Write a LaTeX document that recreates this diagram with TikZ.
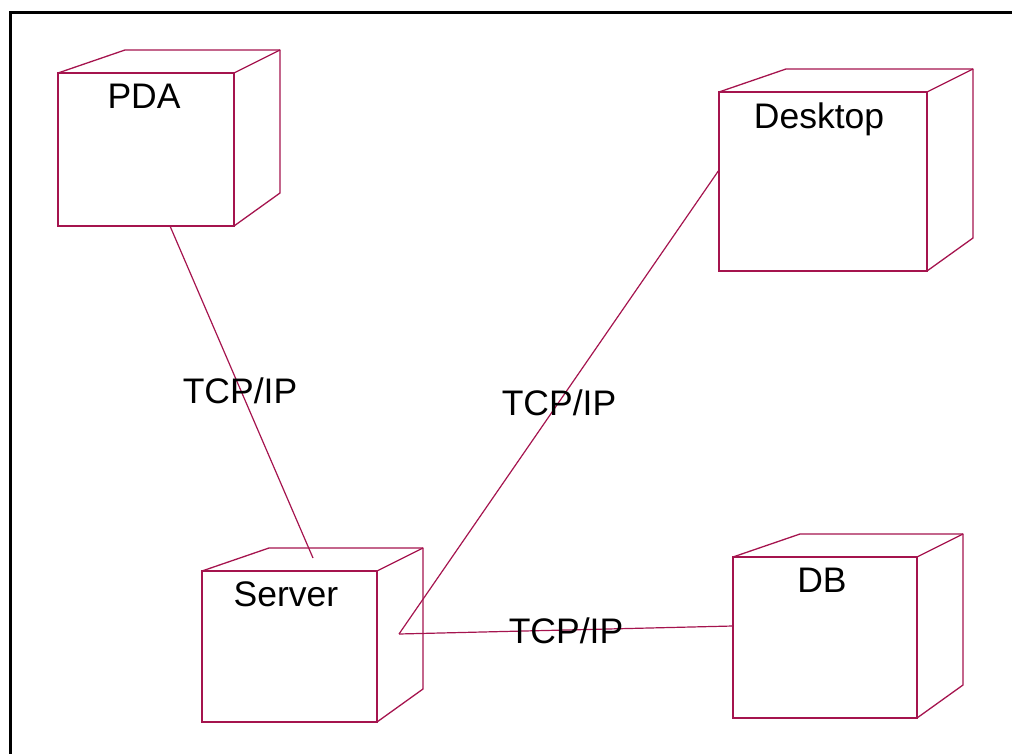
\documentclass[tikz,border=0pt]{standalone}
\usepackage{fontspec}
\setmainfont{Liberation Sans}
\definecolor{nodeline}{RGB}{165,20,78}
\tikzset{
  face/.style={draw=nodeline, line width=1.3pt, inner sep=0pt, outer sep=0pt},
  edge/.style={draw=nodeline, line width=1.3pt, line join=round},
  link/.style={draw=nodeline, line width=1.2pt},
  lbl/.style={anchor=base, inner sep=0pt, font=\fontsize{35.5}{40}\selectfont},
}
% front face of a UML node as a named rectangle node, plus its 3-D back edges
% #1 name, #2 left, #3 top, #4 right, #5 bottom
\newcommand{\umlnode}[5]{%
  \node[face, minimum width={#4-#2}, minimum height={#5-#3}] (#1) at ({(#2+#4)/2},{(#3+#5)/2}) {};
  \draw[edge] (#1.north west) -- ++(67,-23) -| ([shift={(46,-33)}]#1.south east) -- (#1.south east);
  \draw[edge] (#1.north east) -- ++(46,-23);
}
\begin{document}
\begin{tikzpicture}[x=1pt,y=-1pt]
\useasboundingbox (0,0) rectangle (1012,754);
% sheet border
\draw[line width=3pt] (10,754) -- (10,13) -- (1012,13);

\umlnode{pda}{58}{73}{234}{226}
\umlnode{desktop}{719}{92}{927}{271}
\umlnode{server}{202}{571}{377}{722}
\umlnode{db}{733}{557}{917}{718}

\node[lbl] (pdaname) at (144,109) {PDA};
\node[lbl] (desktopname) at (819,129) {Desktop};
\node[lbl] (servername) at (286,606) {Server};
\node[lbl] (dbname) at (822,592) {DB};

% connections
\coordinate (srvport) at (399,634);
\coordinate (srvtop) at (313,558);
\draw[link] ([xshift=24pt]pda.south) -- (srvtop);
\draw[link] (desktop.west |- 0,170) -- (srvport);
\draw[link] (srvport) -- (db.west |- 0,626);

\node[lbl] (tcp1) at (240,403) {TCP/IP};
\node[lbl] (tcp2) at (559,415) {TCP/IP};
\node[lbl] (tcp3) at (566,643) {TCP/IP};
\end{tikzpicture}
\end{document}
